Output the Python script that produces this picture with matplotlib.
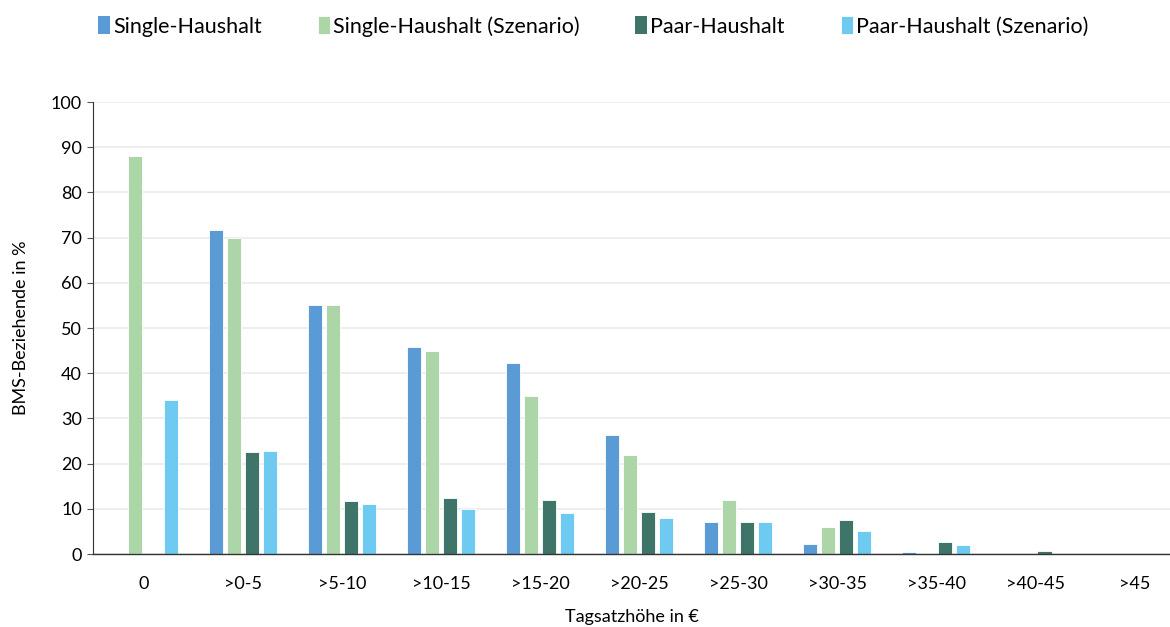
import numpy as np
import matplotlib as mpl
import matplotlib.pyplot as plt

mpl.rcParams.update({
    "font.family": ["Lato", "DejaVu Sans"],
    "font.size": 12,
})

categories = ["0", ">0-5", ">5-10", ">10-15", ">15-20", ">20-25",
              ">25-30", ">30-35", ">35-40", ">40-45", ">45"]
series_names = ["Single-Haushalt", "Single-Haushalt (Szenario)",
                "Paar-Haushalt", "Paar-Haushalt (Szenario)"]
single = [0, 71.7, 55.0, 45.8, 42.2, 26.3, 7.0, 2.2, 0.4, 0.1, 0.0]
single_sz = [88.0, 70.0, 55.0, 45.0, 35.0, 22.0, 11.9, 5.9, 0.2, 0.0, 0.0]
paar = [0, 22.5, 11.7, 12.3, 12.0, 9.3, 7.1, 7.5, 2.7, 0.7, 0.3]
paar_sz = [34.0, 22.7, 11.0, 10.0, 9.0, 8.0, 7.0, 5.0, 2.0, 0.0, 0.0]
colors = ["#5B9BD5", "#ACD6A7", "#3F7568", "#6FCAF2"]

fig = plt.figure(figsize=(11.7, 6.27), dpi=100)
ax = fig.add_axes([0.0795, 0.1164, 0.9205, 0.7209])

x = np.arange(len(categories))
step = 0.182
width = 0.145
for i, (vals, name, c) in enumerate(zip([single, single_sz, paar, paar_sz],
                                        series_names, colors)):
    # no white edge on empty bars, or they would hide the baseline
    edges = ["white" if v > 0 else "none" for v in vals]
    ax.bar(x + (i - 1.5) * step, vals, width, color=c, label=name,
           edgecolor=edges, linewidth=0.6, zorder=2)

ax.set_ylim(0, 100)
ax.set_xlim(-0.515, 10.36)
ax.set_yticks(np.arange(0, 101, 10))
ax.set_xticks(x)
ax.set_xticklabels(categories)
ax.grid(axis="y", color="#EBEBEB", linewidth=1.2, zorder=0)
ax.set_axisbelow(True)

for s in ["top", "right"]:
    ax.spines[s].set_visible(False)
ax.spines["left"].set_color("#333333")
ax.spines["bottom"].set_color("#333333")
ax.spines["bottom"].set_linewidth(1.0)
ax.tick_params(axis="y", length=4, color="#555555", labelsize=13, pad=4)
ax.tick_params(axis="x", length=0, labelsize=13, pad=16)

ax.set_xlabel("Tagsatzhöhe in €", fontsize=13, labelpad=12)
ax.set_ylabel("BMS-Beziehende in %", fontsize=13, labelpad=16)

fig.legend(loc="upper center", bbox_to_anchor=(0.507, 1.005), ncol=4,
           frameon=False, fontsize=15.5, handlelength=0.55, handleheight=0.9,
           handletextpad=0.15, columnspacing=2.6)

fig.savefig("out.png", dpi=100)
